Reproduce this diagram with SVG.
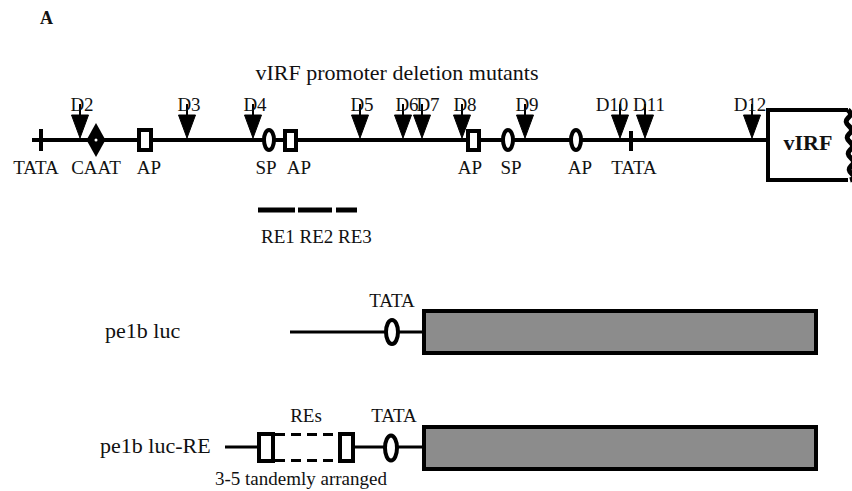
<svg xmlns="http://www.w3.org/2000/svg" width="852" height="491" viewBox="0 0 852 491">
  <style>
    text { font-family: "Liberation Serif", "Times New Roman", serif; fill: #111; }
    .lbl { font-size: 19px; }
    .big { font-size: 22px; }
    .mid { text-anchor: middle; }
    .line { stroke: #000; stroke-width: 4; fill: none; }
    .thin { stroke: #000; stroke-width: 3; fill: none; }
    .elem { stroke: #000; stroke-width: 4; fill: #fff; }
    .arrow { fill: #000; stroke: #000; stroke-width: 1; }
    .stem { stroke: #000; stroke-width: 2; }
    .gene { fill: #8c8c8c; stroke: #000; stroke-width: 4; }
  </style>
  <defs>
    <!-- deletion endpoint marker: short stem plus down-pointing triangle -->
    <g id="del">
      <line class="stem" x1="0" y1="-36" x2="0" y2="-24"/>
      <polygon class="arrow" points="-8.5,-25 8.5,-25 0,-2"/>
    </g>
  </defs>

  <text x="40" y="24" style="font-size:18px;font-weight:bold">A</text>

  <!-- promoter map -->
  <g id="promoter">
    <text class="big mid" x="397" y="80">vIRF promoter deletion mutants</text>
    <g id="connectors">
      <line class="line" x1="32" y1="140" x2="768" y2="140"/>
    </g>
    <g id="tata1"><line class="line" x1="41" y1="129" x2="41" y2="151"/><text class="lbl mid" x="36" y="174">TATA</text></g>
    <g id="caat">
      <polygon points="96,123 105.5,140 96,157 86.5,140" fill="#000"/>
      <circle cx="96" cy="140" r="1.5" fill="#fff"/>
      <text class="lbl mid" x="96" y="174">CAAT</text>
    </g>
    <g id="ap1"><rect class="elem" x="139" y="130" width="12" height="20"/><text class="lbl mid" x="149" y="174">AP</text></g>
    <g id="sp1"><ellipse class="elem" cx="269" cy="140" rx="5" ry="10"/><text class="lbl mid" x="266" y="174">SP</text></g>
    <g id="ap2"><rect class="elem" x="285" y="131" width="11" height="19"/><text class="lbl mid" x="299" y="174">AP</text></g>
    <g id="ap3"><rect class="elem" x="468" y="131" width="11" height="19"/><text class="lbl mid" x="470" y="174">AP</text></g>
    <g id="sp2"><ellipse class="elem" cx="508" cy="140" rx="5" ry="10"/><text class="lbl mid" x="511" y="174">SP</text></g>
    <g id="ap4"><ellipse class="elem" cx="576" cy="140" rx="5" ry="10"/><text class="lbl mid" x="580" y="174">AP</text></g>
    <g id="tata2"><line class="line" x1="631" y1="131" x2="631" y2="151"/><text class="lbl mid" x="634" y="174">TATA</text></g>

    <g id="deletions">
      <use href="#del" x="80" y="140"/><text class="lbl mid" x="82" y="111">D2</text>
      <use href="#del" x="187" y="140"/><text class="lbl mid" x="189" y="111">D3</text>
      <use href="#del" x="253" y="140"/><text class="lbl mid" x="255" y="111">D4</text>
      <use href="#del" x="360" y="140"/><text class="lbl mid" x="362" y="111">D5</text>
      <use href="#del" x="403" y="140"/><text class="lbl mid" x="407" y="111">D6</text>
      <use href="#del" x="422" y="140"/><text class="lbl mid" x="428" y="111">D7</text>
      <use href="#del" x="462" y="140"/><text class="lbl mid" x="465" y="111">D8</text>
      <use href="#del" x="525" y="140"/><text class="lbl mid" x="527" y="111">D9</text>
      <use href="#del" x="620" y="140"/><text class="lbl mid" x="612" y="111">D10</text>
      <use href="#del" x="645" y="140"/><text class="lbl mid" x="649" y="111">D11</text>
      <use href="#del" x="752" y="140"/><text class="lbl mid" x="750" y="111">D12</text>
    </g>

    <g id="virf">
      <path d="M848,110 L768,110 L768,180 L848,180" class="line" stroke-width="5"/>
      <path d="M848,110 q5,4 0,8 q-4,4 1,8 q5,4 0,8 q-4,4 1,8 q5,4 0,8 q-4,4 1,8 q5,4 0,8 q-4,4 1,8 q5,4 -2,6" stroke="#000" stroke-width="5" fill="none"/>
      <text x="808" y="150" class="mid" style="font-size:22px;font-weight:bold">vIRF</text>
    </g>

    <g id="re-fragments">
      <line x1="258" y1="210" x2="295" y2="210" stroke="#000" stroke-width="5"/>
      <line x1="298" y1="210" x2="332" y2="210" stroke="#000" stroke-width="5"/>
      <line x1="336" y1="210" x2="357" y2="210" stroke="#000" stroke-width="5"/>
      <text class="lbl" x="261" y="243">RE1 RE2 RE3</text>
    </g>
  </g>

  <!-- reporter construct without response elements -->
  <g id="pe1b-luc">
    <text class="big" x="105" y="338">pe1b luc</text>
    <line class="thin" x1="290" y1="332" x2="424" y2="332"/>
    <ellipse class="elem" cx="392" cy="332" rx="6" ry="12" stroke-width="3.5"/>
    <text class="lbl mid" x="392" y="307">TATA</text>
    <rect class="gene" x="424" y="311" width="392" height="42"/>
  </g>

  <!-- reporter construct with tandem response elements -->
  <g id="pe1b-luc-re">
    <text class="big" x="100" y="453">pe1b luc-RE</text>
    <line class="thin" x1="225" y1="447" x2="258" y2="447"/>
    <rect class="elem" x="259" y="434" width="14" height="27" stroke-width="3.5"/>
    <line class="thin" x1="275" y1="434.5" x2="339" y2="434.5" stroke-dasharray="10 6"/>
    <line class="thin" x1="275" y1="460.5" x2="339" y2="460.5" stroke-dasharray="10 6"/>
    <line class="thin" x1="341" y1="434" x2="341" y2="461"/>
    <rect class="elem" x="340" y="434" width="13" height="27" stroke-width="3.5"/>
    <line class="thin" x1="353" y1="447" x2="424" y2="447"/>
    <ellipse class="elem" cx="391" cy="448" rx="6" ry="12.5" stroke-width="3.5"/>
    <text class="lbl mid" x="306" y="422">REs</text>
    <text class="lbl mid" x="394" y="422">TATA</text>
    <rect class="gene" x="424" y="427" width="392" height="42"/>
    <text class="lbl" x="215" y="485">3-5 tandemly arranged</text>
  </g>
</svg>
